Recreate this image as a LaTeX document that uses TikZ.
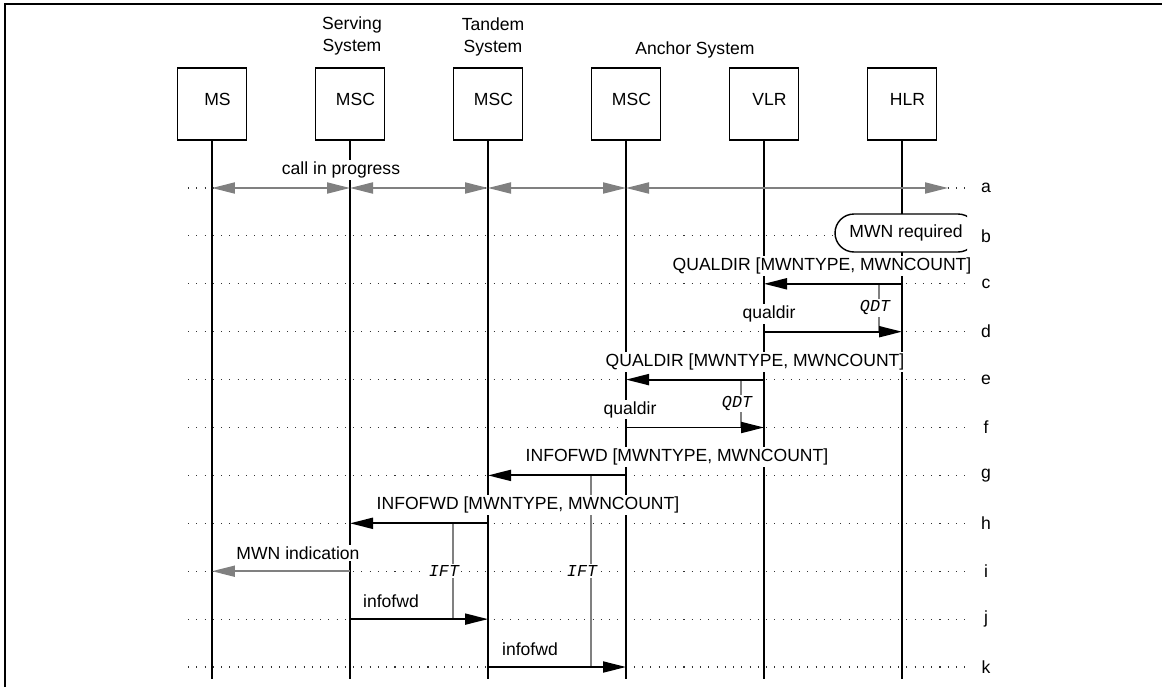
\documentclass[tikz,border=0pt]{standalone}
\usepackage{fontspec}
\setmainfont{Liberation Sans}
\setmonofont{Liberation Mono}
\usetikzlibrary{arrows.meta, positioning, calc}
\definecolor{callgray}{RGB}{128,128,128}

\begin{document}
\begin{tikzpicture}[x=0.02cm,y=-0.02cm,>={Triangle[length=0.46cm,width=0.22cm]},
	every node/.style={font=\fontsize{10}{12.5}\selectfont},
	entity/.style={draw,line width=0.8pt,fill=white,minimum width=1.38cm,minimum height=1.44cm,inner sep=0pt},
	lifeline/.style={line width=0.85pt},
	rowline/.style={line width=0.6pt,dash pattern=on 0.6pt off 4.1pt,black!80},
	msg/.style={->,line width=1.1pt},
	call/.style={<->,line width=1.1pt,callgray},
	lbl/.style={fill=white,inner sep=1pt},
	timer/.style={callgray,line width=0.9pt},
	tlabel/.style={font=\fontsize{9.5}{10}\selectfont\ttfamily\itshape,text=black,fill=white,inner sep=1pt}]
		\def\rowtop{188}
		\def\rowgap{47.9}
		
		\useasboundingbox (0,0) rectangle (1162,687);
		\draw[line width=1.3pt] (5,687) -- (5,4) -- (1162,4);
		
		% rows a..k and the points where they meet the lifelines
		\foreach \rw [count=\i from 0] in {a,b,c,d,e,f,g,h,i,j,k}{
			\pgfmathsetmacro\yy{\rowtop+\rowgap*\i}
			\draw[rowline] (188,\yy) -- (970,\yy);
			\node (row-\rw) at (986,\yy) {\rw};
			\foreach \n/\xx in {ms/212,smsc/350,tmsc/488,amsc/626,vlr/764,hlr/902}
				\coordinate (\n-\rw) at (\xx,\yy);
		}
		
		% systems
		\node[align=center] (serving) at (352,36) {Serving\\System};
		\node[align=center] (tandem) at (493,37) {Tandem\\System};
		\node (anchor) at (695,50) {Anchor System};
		
		\foreach \n/\xx/\t in {ms/212/MS,smsc/350/MSC,tmsc/488/MSC,amsc/626/MSC,vlr/764/VLR,hlr/902/HLR}{
			\node[entity,label={[xshift=0.11cm,yshift=0.1cm]center:\t}] (\n) at (\xx,104) {};
			\coordinate (\n-end) at (\xx,679);
			\draw[lifeline] (\n) -- (\n-end);
		}
		
		% timers
		\path (hlr-c) ++(-23,0) coordinate (qdt1a);
		\path (hlr-d) ++(-23,0) coordinate (qdt1b);
		\path (vlr-e) ++(-23,0) coordinate (qdt2a);
		\path (vlr-f) ++(-23,0) coordinate (qdt2b);
		\path (tmsc-h) ++(-35,0) coordinate (ift1a);
		\path (tmsc-j) ++(-35,0) coordinate (ift1b);
		\path (amsc-g) ++(-35,0) coordinate (ift2a);
		\path (amsc-k) ++(-35,0) coordinate (ift2b);
		\draw[timer] (qdt1a) -- (qdt1b) node[tlabel,midway,xshift=-0.08cm] (qdt1) {QDT};
		\draw[timer] (qdt2a) -- (qdt2b) node[tlabel,midway,xshift=-0.08cm] (qdt2) {QDT};
		\draw[timer,line width=1.6pt] (ift1a) -- (ift1b) node[tlabel,midway,xshift=-0.18cm] (ift1) {IFT};
		\draw[timer,line width=1.1pt] (ift2a) -- (ift2b) node[tlabel,midway,xshift=-0.18cm] (ift2) {IFT};
		
		% message texts
		\node[lbl] (t-a) at (341,170) {call in progress};
		\node[lbl] (t-c) at (822,265.8) {QUALDIR [MWNTYPE, MWNCOUNT]};
		\node[lbl] (t-d) at (769,313.7) {qualdir};
		\node[lbl] (t-e) at (755,361.6) {QUALDIR [MWNTYPE, MWNCOUNT]};
		\node[lbl] (t-f) at (630,409.5) {qualdir};
		\node[lbl] (t-g) at (677,457.4) {INFOFWD [MWNTYPE, MWNCOUNT]};
		\node[lbl] (t-h) at (528,505.3) {INFOFWD [MWNTYPE, MWNCOUNT]};
		\node[lbl] (t-i) at (298,553.2) {MWN indication};
		\node[lbl] (t-j) at (391,601.1) {infofwd};
		\node[lbl] (t-k) at (530,649) {infofwd};
		
		% messages
		\coordinate (far-a) at (948,\rowtop);
		\draw[call] (ms-a) -- (smsc-a);
		\draw[call] (smsc-a) -- (tmsc-a);
		\draw[call] (tmsc-a) -- (amsc-a);
		\draw[call] (amsc-a) -- (far-a);
		\draw[msg] (hlr-c) -- (vlr-c);
		\draw[msg] (vlr-d) -- (hlr-d);
		\draw[msg] (vlr-e) -- (amsc-e);
		\draw[msg] (amsc-f) -- (vlr-f);
		\draw[msg] (amsc-g) -- (tmsc-g);
		\draw[msg] (tmsc-h) -- (smsc-h);
		\draw[msg,callgray] (smsc-i) -- (ms-i);
		\draw[msg] (smsc-j) -- (tmsc-j);
		\draw[msg] (tmsc-k) -- (amsc-k);
		
		\begin{scope}
			\clip (820,200) rectangle (967,270);
			\node[draw,fill=white,line width=0.8pt,rounded corners=0.38cm,minimum width=2.84cm,minimum height=0.76cm] (mwn) at (906,233) {MWN required};
		\end{scope}
	\end{tikzpicture}
\end{document}
